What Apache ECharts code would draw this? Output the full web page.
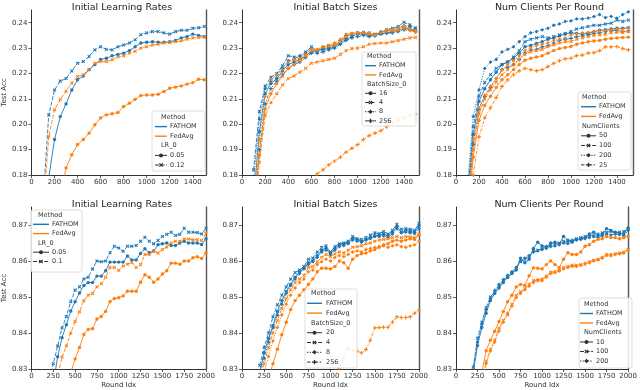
<!DOCTYPE html>
<html><head><meta charset="utf-8">
<script src="https://cdn.jsdelivr.net/npm/echarts@6/dist/echarts.min.js"></script>
<style>html,body{margin:0;padding:0;background:#fff}#c{width:640px;height:390px}</style>
</head><body><div id="c"></div>
<script>
// ---------- data ----------
const roundsTop = [100,150,200,250,300,350,400,450,500,550,600,650,700,750,800,850,900,950,1000,1050,1100,1150,1200,1250,1300,1350,1400,1450,1500];
const roundsBot = [200,250,300,350,400,450,500,550,600,650,700,750,800,850,900,950,1000,1050,1100,1150,1200,1250,1300,1350,1400,1450,1500,1550,1600,1650,1700,1750,1800,1850,1900,1950,2000];
const methods = ['FATHOM','FedAvg'];
const titles = ['Initial Learning Rates','Initial Batch Sizes','Num Clients Per Round','Initial Learning Rates','Initial Batch Sizes','Num Clients Per Round'];
const lrLevelsTop = ['0.05','0.12'];
const bsLevelsTop = ['16','4','8','256'];
const ncLevelsTop = ['50','100','200','25'];
const lrLevelsBot = ['0.05','0.1'];
const bsLevelsBot = ['20','4','8','256'];
const ncLevelsBot = ['10','100','200'];
const yTicksTop = [0.18,0.19,0.20,0.21,0.22,0.23,0.24];
const yTicksBot = [0.83,0.84,0.85,0.86,0.87];

// top-left: learning rate
const tlFathom005 = [0.160,0.179,0.194,0.203,0.208,0.2135,0.2175,0.219,0.2215,0.2235,0.2255,0.226,0.227,0.2275,0.228,0.229,0.2305,0.232,0.2323,0.2325,0.2323,0.2323,0.2325,0.233,0.234,0.2345,0.2355,0.235,0.2345];
const tlFathom012 = [0.170,0.2037,0.2135,0.217,0.218,0.221,0.224,0.2247,0.2267,0.2293,0.2305,0.2295,0.2293,0.2305,0.2312,0.232,0.2333,0.2353,0.236,0.2365,0.2365,0.236,0.2355,0.2365,0.237,0.237,0.2378,0.238,0.2385];
const tlFedavg005 = [0.130,0.145,0.158,0.172,0.1828,0.188,0.192,0.194,0.1965,0.1998,0.2025,0.2037,0.2041,0.2046,0.207,0.2083,0.2098,0.2113,0.2115,0.2115,0.2118,0.2129,0.2142,0.2146,0.2151,0.2158,0.2164,0.2177,0.2175];
const tlFedavg012 = [0.165,0.1952,0.2057,0.2097,0.213,0.2162,0.2188,0.2195,0.2215,0.224,0.2247,0.2247,0.2254,0.2265,0.227,0.228,0.2287,0.230,0.2305,0.2312,0.2315,0.232,0.2322,0.2325,0.2328,0.2335,0.234,0.2342,0.2343];

// top-middle: batch size
const tmFathom16  = [0.170,0.197,0.212,0.216,0.218,0.221,0.2235,0.2245,0.2255,0.227,0.2285,0.229,0.2295,0.2298,0.2305,0.2318,0.2335,0.2345,0.2355,0.2355,0.235,0.2352,0.2358,0.236,0.2365,0.237,0.2378,0.2375,0.237];
const tmFathom4   = [0.182,0.205,0.215,0.2185,0.220,0.223,0.227,0.2265,0.2262,0.2285,0.2305,0.229,0.2298,0.231,0.2312,0.2325,0.2345,0.2355,0.236,0.2362,0.236,0.2355,0.236,0.2372,0.2378,0.2385,0.2402,0.2392,0.238];
const tmFathom8   = [0.178,0.202,0.214,0.217,0.2195,0.222,0.225,0.2255,0.227,0.228,0.2295,0.2285,0.2298,0.2302,0.2305,0.233,0.235,0.2355,0.2358,0.236,0.2355,0.2352,0.2365,0.237,0.2372,0.238,0.2388,0.2385,0.2375];
const tmFathom256 = [0.165,0.190,0.208,0.214,0.217,0.2195,0.222,0.2235,0.2245,0.2262,0.228,0.228,0.2285,0.2293,0.230,0.2315,0.233,0.234,0.2345,0.235,0.2345,0.2348,0.2355,0.2358,0.236,0.2365,0.2372,0.237,0.2365];
const tmFedavg16  = [0.165,0.188,0.206,0.212,0.216,0.219,0.222,0.2235,0.225,0.227,0.229,0.2292,0.2305,0.2308,0.2312,0.2325,0.2345,0.2358,0.236,0.236,0.2358,0.2352,0.2362,0.2368,0.2372,0.2378,0.2385,0.2375,0.2368];
const tmFedavg4   = [0.160,0.185,0.2035,0.2085,0.212,0.2155,0.218,0.219,0.2205,0.222,0.224,0.2245,0.225,0.2255,0.226,0.2275,0.229,0.2298,0.230,0.2305,0.2315,0.2318,0.232,0.232,0.2325,0.233,0.2335,0.234,0.2342];
const tmFedavg8   = [0.172,0.194,0.211,0.2175,0.2195,0.2215,0.2245,0.2255,0.2258,0.2275,0.2295,0.2295,0.2305,0.231,0.232,0.2335,0.2355,0.2358,0.236,0.236,0.2355,0.2352,0.2362,0.2365,0.2368,0.237,0.2378,0.237,0.2362];
const tmFedavg256 = [0.10,0.11,0.12,0.13,0.14,0.15,0.155,0.16,0.165,0.17,0.176,0.1805,0.182,0.184,0.1855,0.187,0.189,0.1905,0.192,0.194,0.1955,0.1965,0.1975,0.199,0.2005,0.2015,0.2025,0.2035,0.204];

// top-right: num clients
const trFathom50  = [0.170,0.196,0.209,0.214,0.2175,0.2205,0.2235,0.2245,0.226,0.228,0.2305,0.231,0.2318,0.2325,0.2335,0.234,0.2348,0.2355,0.236,0.2358,0.2355,0.2358,0.2365,0.237,0.2372,0.2375,0.2378,0.2378,0.238];
const trFathom100 = [0.172,0.199,0.211,0.2165,0.2195,0.222,0.2235,0.2245,0.2265,0.229,0.2325,0.2335,0.234,0.2345,0.234,0.2345,0.2352,0.2358,0.2365,0.2375,0.238,0.2385,0.239,0.239,0.2395,0.2398,0.241,0.2405,0.241];
const trFathom200 = [0.176,0.203,0.2135,0.222,0.2245,0.2255,0.2285,0.2295,0.2305,0.2325,0.2345,0.236,0.2365,0.2372,0.2378,0.239,0.2395,0.2405,0.2407,0.2415,0.2415,0.2418,0.2424,0.2432,0.242,0.2425,0.2418,0.2432,0.2443];
const trFathom25  = [0.165,0.192,0.206,0.211,0.2145,0.218,0.2215,0.2225,0.2235,0.2255,0.228,0.2292,0.2295,0.2305,0.231,0.232,0.233,0.2335,0.2338,0.2345,0.2348,0.2352,0.2358,0.236,0.2365,0.2368,0.237,0.2365,0.2368];
const trFedavg50  = [0.163,0.187,0.2015,0.2075,0.211,0.2145,0.2175,0.2195,0.2215,0.2235,0.2252,0.226,0.2265,0.227,0.228,0.229,0.2298,0.2302,0.2306,0.2315,0.232,0.2325,0.2328,0.233,0.2335,0.2338,0.234,0.2342,0.2343];
const trFedavg100 = [0.165,0.190,0.204,0.210,0.2135,0.2165,0.2195,0.2215,0.2235,0.2255,0.2275,0.2285,0.229,0.2295,0.2305,0.2312,0.232,0.2325,0.2326,0.2335,0.234,0.2345,0.235,0.2352,0.2355,0.236,0.2362,0.2362,0.2365];
const trFedavg200 = [0.168,0.194,0.2065,0.2115,0.215,0.218,0.2215,0.2235,0.225,0.227,0.229,0.230,0.231,0.2315,0.232,0.233,0.2335,0.234,0.2352,0.2355,0.236,0.2362,0.2365,0.2368,0.237,0.2372,0.2375,0.2375,0.2378];
const trFedavg25  = [0.158,0.180,0.195,0.2025,0.2065,0.2105,0.2149,0.2175,0.2195,0.221,0.222,0.2215,0.221,0.2215,0.2227,0.224,0.225,0.2258,0.226,0.227,0.2272,0.228,0.2282,0.229,0.2305,0.2305,0.2306,0.2298,0.2293];

// bottom-left: learning rate
const blFathom005 = [0.820,0.826,0.8334,0.8387,0.8423,0.8461,0.8487,0.8511,0.8532,0.854,0.854,0.8558,0.8558,0.8573,0.8597,0.8597,0.8597,0.8597,0.8614,0.8603,0.8603,0.8621,0.8634,0.8623,0.8628,0.8645,0.8648,0.865,0.8643,0.8643,0.865,0.8655,0.865,0.865,0.865,0.8646,0.8662];
const blFathom01  = [0.826,0.8315,0.8364,0.8414,0.8446,0.8487,0.8519,0.8528,0.855,0.8555,0.8578,0.860,0.8598,0.860,0.8623,0.8641,0.8636,0.8627,0.8641,0.8641,0.8643,0.8655,0.8666,0.8655,0.8648,0.8657,0.8668,0.8674,0.868,0.8671,0.8674,0.8691,0.868,0.868,0.8679,0.8675,0.8691];
const blFedavg005 = [0.805,0.811,0.816,0.821,0.825,0.829,0.8328,0.836,0.8396,0.841,0.8412,0.8439,0.8446,0.846,0.8487,0.8496,0.8498,0.8503,0.8516,0.8516,0.8516,0.8541,0.8562,0.8555,0.8541,0.855,0.8564,0.8573,0.8594,0.8594,0.8591,0.860,0.860,0.8609,0.8612,0.8607,0.8623];
const blFedavg01  = [0.815,0.822,0.828,0.8333,0.8364,0.840,0.8432,0.8459,0.849,0.8505,0.851,0.8528,0.8537,0.8555,0.8582,0.8582,0.8574,0.8586,0.8591,0.8596,0.8582,0.859,0.8618,0.8618,0.8627,0.8622,0.8632,0.8639,0.865,0.8655,0.8655,0.8661,0.8661,0.8659,0.8659,0.8657,0.8677];

// bottom-middle: batch size
const bmFathom20 = [0.829,0.8345,0.8385,0.842,0.846,0.849,0.8515,0.8535,0.8555,0.857,0.858,0.8595,0.860,0.8615,0.863,0.8635,0.862,0.8635,0.8645,0.8648,0.865,0.8662,0.866,0.8655,0.866,0.8665,0.867,0.8672,0.8675,0.867,0.868,0.8695,0.868,0.8685,0.8682,0.868,0.8698];
const bmFathom4  = [0.831,0.836,0.840,0.8445,0.8478,0.8505,0.8528,0.855,0.8568,0.8575,0.8585,0.8605,0.8608,0.8625,0.8638,0.8642,0.8625,0.864,0.8648,0.865,0.8655,0.8668,0.8662,0.866,0.8665,0.8672,0.8678,0.8676,0.8682,0.8675,0.8685,0.8702,0.8688,0.869,0.8688,0.8685,0.8705];
const bmFathom8  = [0.8275,0.833,0.8375,0.8415,0.845,0.848,0.851,0.8532,0.855,0.8565,0.8578,0.859,0.8598,0.861,0.8625,0.863,0.8618,0.863,0.864,0.8643,0.8648,0.8658,0.8655,0.8652,0.8658,0.8662,0.8668,0.8668,0.867,0.8665,0.8675,0.869,0.8678,0.868,0.8678,0.8676,0.869];
const bmFedavg20 = [0.818,0.823,0.8275,0.8315,0.8355,0.8395,0.843,0.8465,0.849,0.8505,0.852,0.8535,0.855,0.857,0.858,0.858,0.8578,0.8585,0.860,0.8595,0.858,0.8605,0.8615,0.862,0.8622,0.8628,0.8632,0.8638,0.8645,0.8648,0.8655,0.8658,0.8655,0.8658,0.8662,0.866,0.8672];
const bmFedavg4  = [0.826,0.8315,0.836,0.840,0.8435,0.8468,0.8495,0.852,0.854,0.855,0.856,0.8582,0.8585,0.8598,0.861,0.8618,0.8612,0.862,0.8625,0.8622,0.863,0.8638,0.864,0.8642,0.8648,0.865,0.8655,0.8658,0.866,0.8662,0.8665,0.8668,0.8665,0.8668,0.8667,0.8665,0.8675];
const bmFedavg8  = [0.823,0.829,0.8335,0.8378,0.8415,0.845,0.848,0.8505,0.8525,0.854,0.855,0.857,0.8575,0.859,0.8598,0.8605,0.860,0.861,0.8615,0.8612,0.8618,0.8625,0.8628,0.8625,0.8632,0.8635,0.8638,0.864,0.8642,0.8638,0.8642,0.8645,0.864,0.8638,0.8642,0.8645,0.8655];
const bmFedavg256 = [0.790,0.793,0.796,0.799,0.802,0.805,0.808,0.811,0.814,0.816,0.818,0.820,0.822,0.824,0.825,0.827,0.828,0.829,0.8302,0.833,0.8357,0.8352,0.835,0.8345,0.8354,0.838,0.8414,0.8415,0.8416,0.8416,0.843,0.8445,0.8443,0.8443,0.8445,0.8455,0.8464];

// bottom-right: num clients
const brFathom10  = [0.829,0.8365,0.8415,0.8455,0.849,0.851,0.8525,0.854,0.8555,0.8565,0.8575,0.8608,0.8595,0.8605,0.8635,0.8652,0.8642,0.864,0.865,0.8652,0.8648,0.8668,0.8658,0.8655,0.866,0.8662,0.8665,0.8675,0.868,0.867,0.8675,0.869,0.8685,0.868,0.8678,0.8675,0.8692];
const brFathom100 = [0.8305,0.8385,0.843,0.847,0.850,0.8515,0.853,0.8545,0.8555,0.8568,0.858,0.8598,0.8605,0.8612,0.8628,0.863,0.8635,0.8638,0.8645,0.8648,0.865,0.8655,0.8652,0.8658,0.8662,0.8665,0.8668,0.8672,0.867,0.8675,0.8678,0.868,0.8682,0.8678,0.868,0.8682,0.8688];
const brFathom200 = [0.8295,0.8375,0.8425,0.8465,0.8495,0.8518,0.8535,0.8548,0.856,0.857,0.8582,0.860,0.8608,0.8615,0.8625,0.8628,0.8632,0.8635,0.864,0.8642,0.8645,0.865,0.8648,0.8652,0.8658,0.866,0.8662,0.8665,0.8668,0.8665,0.867,0.8675,0.8672,0.8675,0.8673,0.867,0.8685];
const brFedavg10  = [0.815,0.822,0.829,0.8351,0.838,0.8405,0.8432,0.846,0.8487,0.8505,0.8528,0.8535,0.8532,0.8559,0.8581,0.858,0.8578,0.859,0.860,0.859,0.8582,0.8605,0.8623,0.8618,0.8618,0.8625,0.8641,0.8645,0.8655,0.866,0.8662,0.8668,0.8665,0.8665,0.8662,0.8665,0.8668];
const brFedavg100 = [0.812,0.819,0.8265,0.832,0.8355,0.838,0.8414,0.8435,0.845,0.848,0.8505,0.8515,0.8523,0.8535,0.8546,0.8545,0.855,0.8558,0.8569,0.857,0.8575,0.8582,0.8585,0.8588,0.8588,0.859,0.8591,0.8598,0.8602,0.8605,0.861,0.8618,0.8615,0.862,0.8622,0.8625,0.8632];
const brFedavg200 = [0.811,0.818,0.8255,0.8315,0.835,0.8375,0.8405,0.843,0.8455,0.8475,0.8498,0.851,0.852,0.853,0.854,0.8548,0.8545,0.8555,0.8565,0.8568,0.8572,0.8578,0.8582,0.8585,0.8585,0.8588,0.8594,0.8595,0.860,0.8603,0.8608,0.8615,0.8618,0.8618,0.862,0.8622,0.863];

// ---------- styling ----------
const BLUE = '#1f77b4', ORANGE = '#ff7f0e';
const FONT = 'DejaVu Sans';
const X_PATH = 'path://M0,4L4,0L10,6L16,0L20,4L14,10L20,16L16,20L10,14L4,20L0,16L6,10Z';
const P_PATH = 'path://M7,0H13V7H20V13H13V20H7V13H0V7H7Z';
const STYLES = [
  {dash:'solid', symbol:'circle', size:3.4},
  {dash:[4,1.6], symbol:X_PATH, size:3.6},
  {dash:[1.3,1.3], symbol:'diamond', size:3.8},
  {dash:[3.5,1.4,1.4,1.4], symbol:P_PATH, size:3.8}
];

function mk(g, xs, ys, color, si, name){
  const st = STYLES[si];
  return {
    type:'line', name:name, xAxisIndex:g, yAxisIndex:g, clip:true,
    data: xs.map((x,i)=>[x, ys[i]]),
    symbol: st.symbol, symbolSize: st.size, showSymbol:true,
    lineStyle:{color:color, width:0.9, type:st.dash},
    itemStyle:{color:color, borderWidth:0},
    emphasis:{disabled:true}, z:2
  };
}

const series = [
  mk(0, roundsTop, tlFathom005, BLUE, 0, 'FATHOM 0.05'),
  mk(0, roundsTop, tlFathom012, BLUE, 1, 'FATHOM 0.12'),
  mk(0, roundsTop, tlFedavg005, ORANGE, 0, 'FedAvg 0.05'),
  mk(0, roundsTop, tlFedavg012, ORANGE, 1, 'FedAvg 0.12'),

  mk(1, roundsTop, tmFathom16, BLUE, 0, 'FATHOM 16'),
  mk(1, roundsTop, tmFathom4, BLUE, 1, 'FATHOM 4'),
  mk(1, roundsTop, tmFathom8, BLUE, 2, 'FATHOM 8'),
  mk(1, roundsTop, tmFathom256, BLUE, 3, 'FATHOM 256'),
  mk(1, roundsTop, tmFedavg16, ORANGE, 0, 'FedAvg 16'),
  mk(1, roundsTop, tmFedavg4, ORANGE, 1, 'FedAvg 4'),
  mk(1, roundsTop, tmFedavg8, ORANGE, 2, 'FedAvg 8'),
  mk(1, roundsTop, tmFedavg256, ORANGE, 3, 'FedAvg 256'),

  mk(2, roundsTop, trFathom50, BLUE, 0, 'FATHOM 50'),
  mk(2, roundsTop, trFathom100, BLUE, 1, 'FATHOM 100'),
  mk(2, roundsTop, trFathom200, BLUE, 2, 'FATHOM 200'),
  mk(2, roundsTop, trFathom25, BLUE, 3, 'FATHOM 25'),
  mk(2, roundsTop, trFedavg50, ORANGE, 0, 'FedAvg 50'),
  mk(2, roundsTop, trFedavg100, ORANGE, 1, 'FedAvg 100'),
  mk(2, roundsTop, trFedavg200, ORANGE, 2, 'FedAvg 200'),
  mk(2, roundsTop, trFedavg25, ORANGE, 3, 'FedAvg 25'),

  mk(3, roundsBot, blFathom005, BLUE, 0, 'FATHOM 0.05'),
  mk(3, roundsBot, blFathom01, BLUE, 1, 'FATHOM 0.1'),
  mk(3, roundsBot, blFedavg005, ORANGE, 0, 'FedAvg 0.05'),
  mk(3, roundsBot, blFedavg01, ORANGE, 1, 'FedAvg 0.1'),

  mk(4, roundsBot, bmFathom20, BLUE, 0, 'FATHOM 20'),
  mk(4, roundsBot, bmFathom4, BLUE, 1, 'FATHOM 4'),
  mk(4, roundsBot, bmFathom8, BLUE, 2, 'FATHOM 8'),
  mk(4, roundsBot, bmFedavg20, ORANGE, 0, 'FedAvg 20'),
  mk(4, roundsBot, bmFedavg4, ORANGE, 1, 'FedAvg 4'),
  mk(4, roundsBot, bmFedavg8, ORANGE, 2, 'FedAvg 8'),
  mk(4, roundsBot, bmFedavg256, ORANGE, 3, 'FedAvg 256'),

  mk(5, roundsBot, brFathom10, BLUE, 0, 'FATHOM 10'),
  mk(5, roundsBot, brFathom100, BLUE, 1, 'FATHOM 100'),
  mk(5, roundsBot, brFathom200, BLUE, 2, 'FATHOM 200'),
  mk(5, roundsBot, brFedavg10, ORANGE, 0, 'FedAvg 10'),
  mk(5, roundsBot, brFedavg100, ORANGE, 1, 'FedAvg 100'),
  mk(5, roundsBot, brFedavg200, ORANGE, 2, 'FedAvg 200')
];

const grids = [
  {left:28, top:10, width:178, height:165},
  {left:242, top:10, width:177, height:165},
  {left:456, top:10, width:177, height:165},
  {left:28, top:207, width:178, height:165},
  {left:242, top:207, width:177, height:165},
  {left:456, top:207, width:176, height:165}
];
const xMax = [1515, 1530, 1540, 2000, 2000, 2000];
const AX = '#333';

const xAxis = grids.map((g,i)=>({
  type:'value', gridIndex:i, min:0, max:xMax[i], interval: i<3 ? 200 : 250,
  axisLine:{show:true, onZero:false, lineStyle:{color:AX, width:1}},
  axisTick:{show:true, length:3, lineStyle:{color:AX, width:0.8}},
  axisLabel:{fontSize:7, color:AX, margin:4, fontFamily:FONT, showMaxLabel: i>=3, showMinLabel:true,
    formatter: v => String(Math.round(v))},
  splitLine:{show:false},
  name: i>=3 ? 'Round Idx' : '', nameLocation:'middle', nameGap:13,
  nameTextStyle:{fontSize:7, color:AX, fontFamily:FONT}
}));
const yAxisLeft = grids.map((g,i)=>({
  type:'value', gridIndex:i, position:'left',
  min: i<3 ? yTicksTop[0] : yTicksBot[0],
  max: i<3 ? 0.245 : 0.875, interval:0.01,
  axisLine:{show:true, onZero:false, lineStyle:{color:AX, width:1}},
  axisTick:{show:true, length:3, lineStyle:{color:AX, width:0.8}},
  axisLabel:{fontSize:7, color:AX, margin:4, fontFamily:FONT, showMaxLabel:false,
    formatter: v => v.toFixed(2)},
  splitLine:{show:false},
  name: (i===0||i===3) ? 'Test Acc' : '', nameLocation:'middle', nameGap:21, nameRotate:90,
  nameTextStyle:{fontSize:7, color:AX, fontFamily:FONT}
}));
const yAxisRight = grids.map((g,i)=>({
  type:'value', gridIndex:i, position:'right',
  min: i<3 ? yTicksTop[0] : yTicksBot[0], max: i<3 ? 0.245 : 0.875,
  axisLine:{show:true, onZero:false, lineStyle:{color:'#555', width:1.4}},
  axisTick:{show:false}, axisLabel:{show:false}, splitLine:{show:false}
}));

const title = titles.map((t,i)=>({
  text:t, left: grids[i].left + grids[i].width/2, top: i<3 ? -2 : 195, textAlign:'center',
  textStyle:{fontSize:9.5, fontWeight:'normal', color:'#222', fontFamily:FONT}
}));

// ---------- legends (graphic) ----------
const UNIT = {
  X:[[-1,-0.6],[-0.6,-1],[0,-0.4],[0.6,-1],[1,-0.6],[0.4,0],[1,0.6],[0.6,1],[0,0.4],[-0.6,1],[-1,0.6],[-0.4,0]],
  P:[[-0.33,-1],[0.33,-1],[0.33,-0.33],[1,-0.33],[1,0.33],[0.33,0.33],[0.33,1],[-0.33,1],[-0.33,0.33],[-1,0.33],[-1,-0.33],[-0.33,-0.33]],
  D:[[0,-1],[1,0],[0,1],[-1,0]]
};
function marker(si, cx, cy, color){
  if (si===0) return {type:'circle', shape:{cx:cx, cy:cy, r:2}, style:{fill:color}, z:102};
  const key = si===1 ? 'X' : (si===2 ? 'D' : 'P');
  const r = si===2 ? 2.3 : 2.1;
  return {type:'polygon', shape:{points: UNIT[key].map(p=>[cx+p[0]*r, cy+p[1]*r])}, style:{fill:color}, z:102};
}
function txt(s, x, y){
  return {type:'text', x:x, y:y, z:103, style:{text:s, fontSize:6.5, fontFamily:FONT, fill:'#333', verticalAlign:'middle', textVerticalAlign:'middle', align:'left'}};
}
const legendSpecs = [
  {box:[152,111,53,60], y0:117, dy:9.6, h1:155, h2:167, lx:170, tx:161, sub:'LR_0', levels:lrLevelsTop},
  {box:[362,52,54,74], y0:56.5, dy:9.2, h1:365, h2:376, lx:379, tx:367, sub:'BatchSize_0', levels:bsLevelsTop},
  {box:[578,92,53,78], y0:97, dy:9.7, h1:581, h2:596, lx:599, tx:582, sub:'NumClients', levels:ncLevelsTop},
  {box:[31,210,51,62], y0:215, dy:9.3, h1:33, h2:49, lx:52, tx:38, sub:'LR_0', levels:lrLevelsBot},
  {box:[305,289,52,79], y0:293.5, dy:9.8, h1:307, h2:322, lx:326, tx:311, sub:'BatchSize_0', levels:bsLevelsBot},
  {box:[579,298,53,70], y0:304, dy:9.5, h1:580, h2:593, lx:596, tx:584, sub:'NumClients', levels:ncLevelsBot}
];
const graphic = [];
legendSpecs.forEach(s=>{
  graphic.push({type:'rect', shape:{x:s.box[0], y:s.box[1], width:s.box[2], height:s.box[3], r:2},
    style:{fill:'rgba(255,255,255,0.85)', stroke:'#d6d6d6', lineWidth:0.8}, z:100});
  graphic.push(txt('Method', s.tx, s.y0));
  [BLUE, ORANGE].forEach((c,k)=>{
    const y = s.y0 + s.dy*(k+1);
    graphic.push({type:'line', shape:{x1:s.h1, y1:y, x2:s.h2, y2:y}, style:{stroke:c, lineWidth:1.4}, z:101});
    graphic.push(txt(methods[k], s.lx, y));
  });
  graphic.push(txt(s.sub, s.tx, s.y0 + s.dy*3));
  s.levels.forEach((lv,k)=>{
    const y = s.y0 + s.dy*(4+k);
    const dash = STYLES[k].dash;
    graphic.push({type:'line', shape:{x1:s.h1, y1:y, x2:s.h2, y2:y},
      style:{stroke:'#333', lineWidth:1.0, lineDash: dash==='solid' ? null : dash}, z:101});
    graphic.push(marker(k, (s.h1+s.h2)/2, y, '#333'));
    graphic.push(txt(lv, s.lx, y));
  });
});

const chart = echarts.init(document.getElementById('c'), null, {renderer:'canvas'});
chart.setOption({
  animation:false,
  backgroundColor:'#fff',
  textStyle:{fontFamily:FONT},
  title: title,
  grid: grids,
  xAxis: xAxis,
  yAxis: yAxisLeft.concat(yAxisRight),
  series: series,
  graphic: graphic
});
</script>
</body></html>
